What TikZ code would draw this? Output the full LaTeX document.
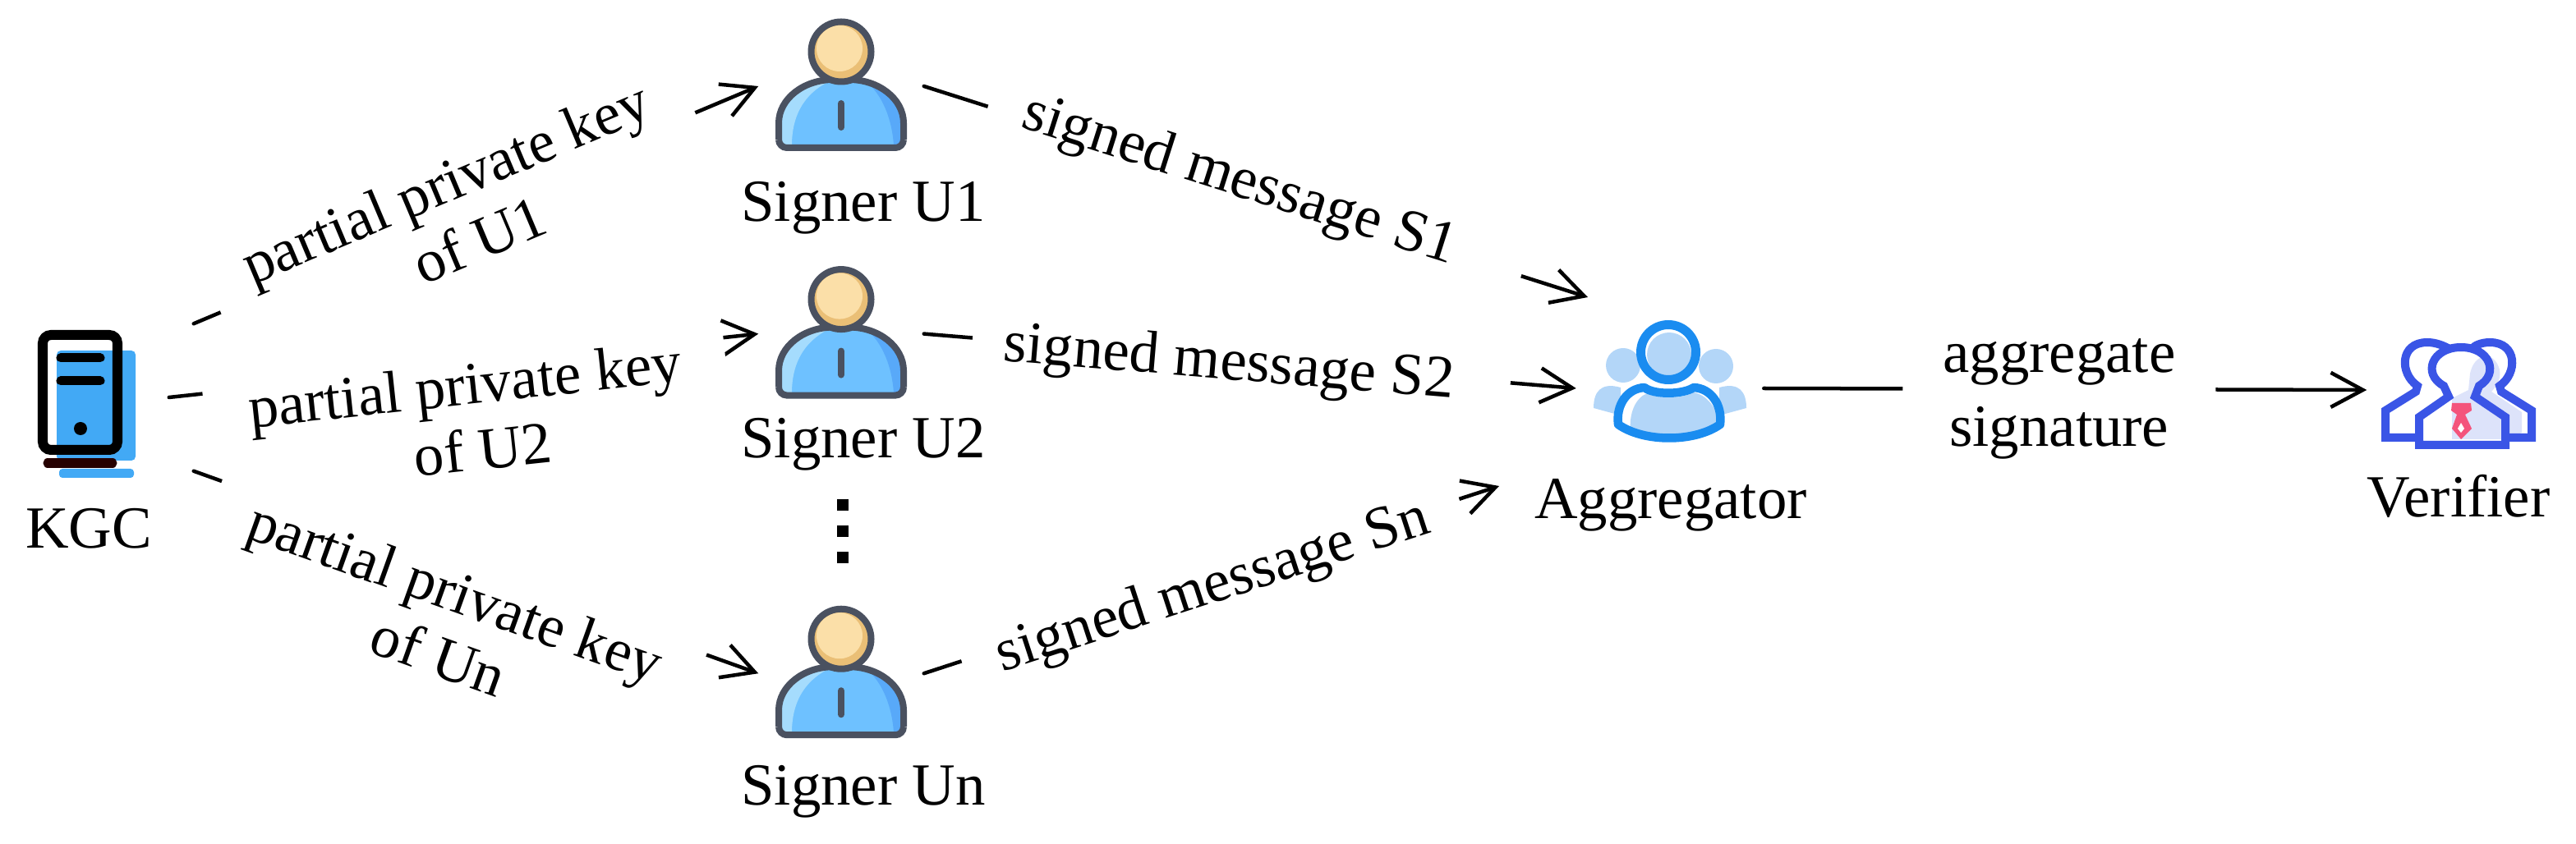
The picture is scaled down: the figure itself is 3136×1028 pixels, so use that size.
\documentclass[tikz,border=0pt]{standalone}
\usepackage{fontspec}
\setmainfont{Liberation Serif}
\usetikzlibrary{positioning, arrows.meta}

\definecolor{outlinegray}{HTML}{4A5160}
\definecolor{bodyblue}{HTML}{6EC1FF}
\definecolor{bodylight}{HTML}{A5DCFD}
\definecolor{bodydark}{HTML}{58A9F9}
\definecolor{headlight}{HTML}{FBDFA8}
\definecolor{headdark}{HTML}{EABF76}
\definecolor{serverblue}{HTML}{42A9F5}
\definecolor{aggblue}{HTML}{1A8CF0}
\definecolor{agglight}{HTML}{B3D6F8}
\definecolor{verblue}{HTML}{3A55E6}
\definecolor{verlight}{HTML}{DDE3FA}
\definecolor{tiepink}{HTML}{F4547C}

\tikzset{
  servericon/.pic={
    \fill[serverblue, rounded corners=.05cm] (-51,-57) rectangle (45,77);
    \fill[serverblue, rounded corners=.04cm] (-48,87) rectangle (43,98);
    \draw[black, line width=.12cm, rounded corners=.1cm] (-68,-76) rectangle (23,64);
    \draw[black, line width=.11cm, line cap=round] (-46,-48) -- (2,-48);
    \draw[black, line width=.11cm, line cap=round] (-46,-20) -- (2,-20);
    \fill[black] (-22,38) circle (8);
    \draw[black!85!red, line width=.11cm, line cap=round] (-62,80) -- (17,80);
  },
  signericon/.pic={
    \fill[bodyblue, rounded corners=.1cm] (-76,72) -- (-76,55) .. controls (-76,15) and (-45,-8) .. (0,-8)
      .. controls (45,-8) and (76,15) .. (76,55) -- (76,72) -- cycle;
    \fill[bodylight] (-74,72) -- (-74,55) .. controls (-74,15) and (-45,-8) .. (-10,-8)
      .. controls (-40,5) and (-60,30) .. (-60,72) -- cycle;
    \fill[bodydark] (74,72) -- (74,55) .. controls (74,15) and (45,-8) .. (30,-6)
      .. controls (50,10) and (62,40) .. (64,72) -- cycle;
    \draw[outlinegray, line width=.08cm, rounded corners=.1cm] (-76,75) -- (-76,55) .. controls (-76,15) and (-45,-8) .. (0,-8)
      .. controls (45,-8) and (76,15) .. (76,55) -- (76,75) -- cycle;
    \draw[outlinegray, line width=.08cm, line cap=round] (0,21) -- (0,50);
    \fill[headdark] (0,-42) circle (34);
    \fill[headlight] (-2,-46) circle (28);
    \draw[outlinegray, line width=.08cm] (0,-42) circle (36.5);
  },
  aggicon/.pic={
    \fill[agglight] (-57,-28) circle (21);
    \fill[agglight] (56,-27) circle (21);
    \fill[agglight] (-60,-1) .. controls (-85,-8) and (-93,5) .. (-93,24) -- (-60,33) -- cycle;
    \fill[agglight] (60,-1) .. controls (85,-8) and (93,5) .. (93,24) -- (60,33) -- cycle;
    \fill[white] (-63,44) .. controls (-66,20) and (-52,0) .. (-31,-1) .. controls (-20,6) and (15,6) .. (29,-1)
      .. controls (50,0) and (64,20) .. (61,44) .. controls (30,66) and (-32,66) .. (-63,44) -- cycle;
    \fill[agglight] (-48,52) .. controls (-50,30) and (-42,12) .. (-28,6) .. controls (-15,13) and (15,13) .. (29,5)
      .. controls (45,8) and (58,25) .. (61,44) .. controls (30,66) and (-20,62) .. (-48,52) -- cycle;
    \draw[aggblue, line width=.105cm, line join=round] (-63,44) .. controls (-66,20) and (-52,0) .. (-31,-1) .. controls (-20,8) and (15,8) .. (29,-1)
      .. controls (50,0) and (64,20) .. (61,44) .. controls (30,66) and (-32,66) .. (-63,44) -- cycle;
    \fill[agglight] (-1,-41) circle (27);
    \draw[aggblue, line width=.11cm] (-2,-44) circle (33.5);
  },
  vericon/.pic={
    \fill[verlight] (14,-20) .. controls (18,-40) and (35,-48) .. (45,-35) .. controls (55,-22) and (50,-8) .. (40,2)
      -- (77,27) -- (77,52) -- (55,60) -- (-8,60) -- (-8,10) -- (12,0) -- cycle;
    \draw[verblue, line width=.1cm, line join=miter] (-52,58) -- (-89,58) -- (-89,25) -- (-52,2) -- (-50,-5)
      .. controls (-72,-20) and (-72,-58) .. (-38,-58) .. controls (-28,-58) and (-18,-54) .. (-11,-50);
    \draw[verblue, line width=.1cm, line join=miter] (57,58) -- (89,58) -- (89,25) -- (52,2) -- (50,-5)
      .. controls (72,-20) and (72,-58) .. (38,-58) .. controls (28,-58) and (18,-54) .. (17,-50);
    \draw[verblue, line width=.1cm, line join=miter] (-48,67) -- (-48,33) -- (-12,8) -- (-18,-5)
      .. controls (-45,-20) and (-32,-52) .. (3,-52) .. controls (38,-52) and (50,-20) .. (25,-5) -- (20,8) -- (57,33) -- (57,67) -- cycle;
    \fill[tiepink] (-8,16) -- (15,16) -- (16,25) -- (8,30) -- (16,47) -- (3,60) -- (-8,47) -- (-2,30) -- (-9,25) -- cycle;
    \fill[white] (3,40) -- (7,47) -- (3,52) -- (-1,47) -- cycle;
  },
  iconbox/.style={minimum width=2cm, minimum height=1.6cm, inner sep=0pt},
  nametext/.style={inner sep=0pt},
  edgelabel/.style={sloped, fill=white, align=center, inner ysep=0pt},
  link/.style={black, line width=.045cm, line cap=round},
  arrowlink/.style={link, -{Straight Barb[length=.39cm,width=.42cm,line width=.045cm]}}
}

\begin{document}
\begin{tikzpicture}[x=.01cm, y=-.01cm, every node/.style={font=\fontsize{20.7}{23}\selectfont}]
  \useasboundingbox (0,0) rectangle (3136,1028);

  \node[iconbox, minimum width=2.3cm, minimum height=1.78cm] (kgc) at (120,484) {};
  \node[iconbox] (u1) at (1024,105) {};
  \node[iconbox, below = 1.4cm of u1] (u2) {};
  \node[iconbox, below = 2.52cm of u2] (un) {};
  \node[iconbox, minimum width=2.27cm] (agg) at (2033,473) {};
  \node[iconbox, minimum width=2.22cm] (ver) at (2993,475) {};

  \coordinate (s1end) at (1933,362);
  \coordinate (snend) at (1825,592);

  \pic at (kgc) {servericon};
  \pic at (u1) {signericon};
  \pic at (u2) {signericon};
  \pic at (un) {signericon};
  \pic at (agg) {aggicon};
  \pic at (ver) {vericon};

  \node[nametext, anchor=base] (kgcname) at (108,668) {KGC};
  \node[nametext, anchor=base] (u1name) at (1051,270) {Signer U1};
  \node[nametext, anchor=base] (u2name) at (1051,558) {Signer U2};
  \node[nametext, anchor=base] (unname) at (1051,980) {Signer Un};
  \node[nametext, anchor=base] (aggname) at (2034,632) {Aggregator};
  \node[nametext, anchor=base] (vername) at (2993,630) {Verifier};

  \foreach \y in {615,647,679}
    \fill[black] (1019,\y-7) rectangle (1033,\y+7);

  \draw[arrowlink] (kgc.north east) -- node[edgelabel, pos=.468, inner xsep=.485cm] {partial private key\\\hspace*{.22cm}of U1} (u1.west);
  \draw[arrowlink] ([shift={(-30,0)}]kgc.east) -- node[edgelabel, pos=.4986, inner xsep=.54cm, inner ysep=1pt, yshift=-18pt] {partial private key\\\hspace*{.26cm}of U2} (u2.west);
  \draw[arrowlink] (kgc.south east) -- node[edgelabel, pos=.479, inner xsep=.485cm, inner ysep=3pt, yshift=-20pt] {partial private key\\\hspace*{.14cm}of Un} (un.west);
  \draw[arrowlink] (u1.east) -- node[edgelabel, pos=.498, inner xsep=.445cm, yshift=1.5pt] {signed message S1\hspace*{.42cm}} (s1end);
  \draw[arrowlink] (u2.east) -- node[edgelabel, pos=.487, inner xsep=.385cm, yshift=-2pt] {signed message S2\hspace*{.3cm}} (agg.west);
  \draw[arrowlink] (un.east) -- node[edgelabel, pos=.498, inner xsep=.435cm, yshift=-3pt] {signed message Sn} (snend);
  \draw[arrowlink] (agg.east) -- node[edgelabel, pos=.49, inner xsep=.49cm, yshift=-3.4pt] {aggregate\\[2.6pt]signature} (ver.west);
\end{tikzpicture}
\end{document}
